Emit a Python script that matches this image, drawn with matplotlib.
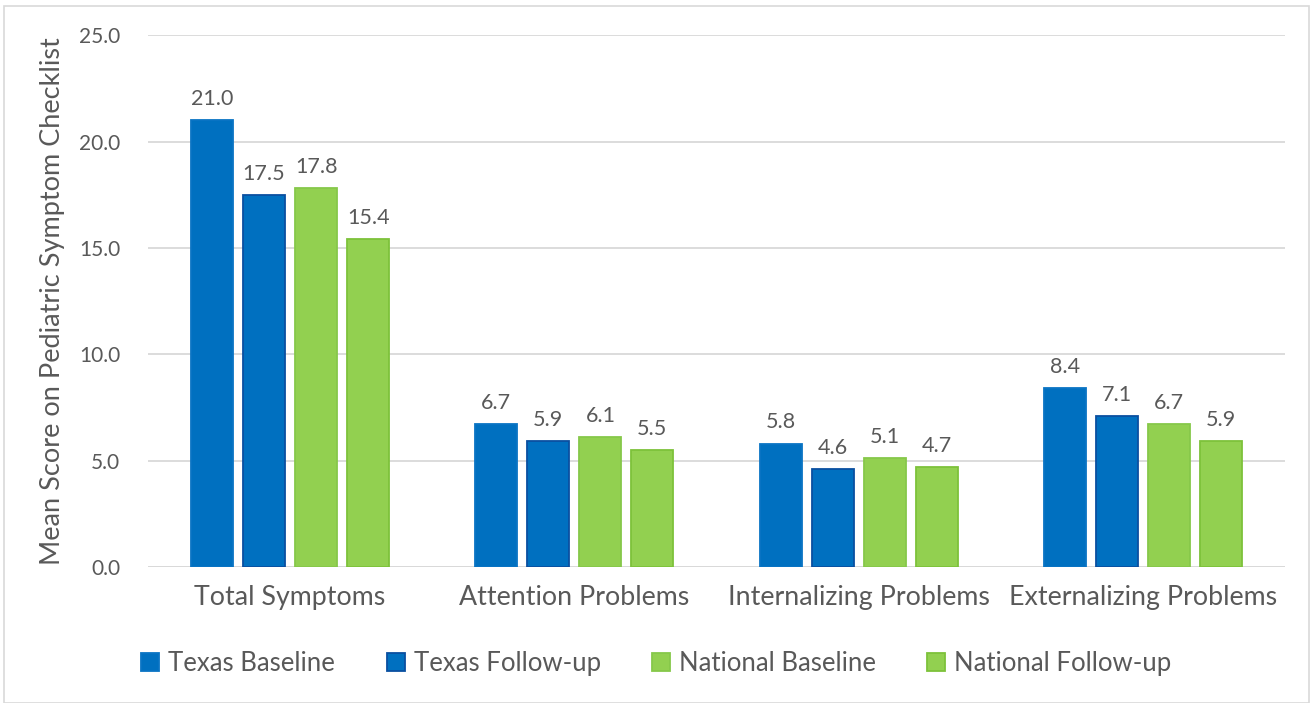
import matplotlib.pyplot as plt
import numpy as np
from matplotlib.patches import Rectangle

plt.rcParams['font.family'] = ['Lato', 'DejaVu Sans']

categories = ['Total Symptoms', 'Attention Problems', 'Internalizing Problems', 'Externalizing Problems']
series_names = ['Texas Baseline', 'Texas Follow-up', 'National Baseline', 'National Follow-up']
texas_baseline = [21.0, 6.7, 5.8, 8.4]
texas_followup = [17.5, 5.9, 4.6, 7.1]
national_baseline = [17.8, 6.1, 5.1, 6.7]
national_followup = [15.4, 5.5, 4.7, 5.9]
y_ticks = [0, 5, 10, 15, 20, 25]

series = [texas_baseline, texas_followup, national_baseline, national_followup]
fills = ['#0070C0', '#0070C0', '#92D050', '#92D050']
edges = ['#0A74C4', '#0A4FA0', '#86C84A', '#7DC23A']
text_color = '#595959'

fig = plt.figure(figsize=(13.13, 7.03), dpi=100)
ax = fig.add_axes([0.1127, 0.1935, 0.8660, 0.7565])

x = np.arange(len(categories))
step = 0.183
width = 0.148
for i, (vals, name) in enumerate(zip(series, series_names)):
    pos = x + (i - 1.5) * step
    bars = ax.bar(pos, vals, width, color=fills[i], edgecolor=edges[i], linewidth=1.3,
                  label=name, zorder=3)
    for b, v in zip(bars, vals):
        ax.annotate(f'{v:.1f}', (b.get_x() + b.get_width() / 2, v), xytext=(0, 8),
                    textcoords='offset points', ha='center', va='bottom',
                    fontsize=15.5, color=text_color)

ax.set_xlim(-0.5, 3.5)
ax.set_ylim(0, 25)
ax.set_yticks(y_ticks)
ax.set_yticklabels([f'{t:.1f}' for t in y_ticks], fontsize=15, color=text_color)
ax.set_xticks(x)
ax.set_xticklabels(categories, fontsize=19.3, color=text_color)
ax.tick_params(axis='both', length=0)
ax.tick_params(axis='x', pad=13)
ax.tick_params(axis='y', pad=20)
ax.grid(axis='y', color='#D9D9D9', linewidth=1.3, zorder=0)
for s in ax.spines.values():
    s.set_visible(False)
ax.axhline(0, color='#D9D9D9', linewidth=1.3, zorder=1)
ax.set_ylabel('Mean Score on Pediatric Symptom Checklist', fontsize=19.5, color=text_color, labelpad=10)

leg = fig.legend(loc='center', bbox_to_anchor=(0.5, 0.056), ncol=4, frameon=False,
                 fontsize=18.5, handlelength=0.7, handleheight=0.7, handletextpad=0.35,
                 columnspacing=2.0)
for t in leg.get_texts():
    t.set_color(text_color)

fig.patches.append(Rectangle((0.003, 0.0), 0.994, 0.991, transform=fig.transFigure,
                             fill=False, edgecolor='#D9D9D9', linewidth=1.2))

fig.savefig('out.png', dpi=100)
